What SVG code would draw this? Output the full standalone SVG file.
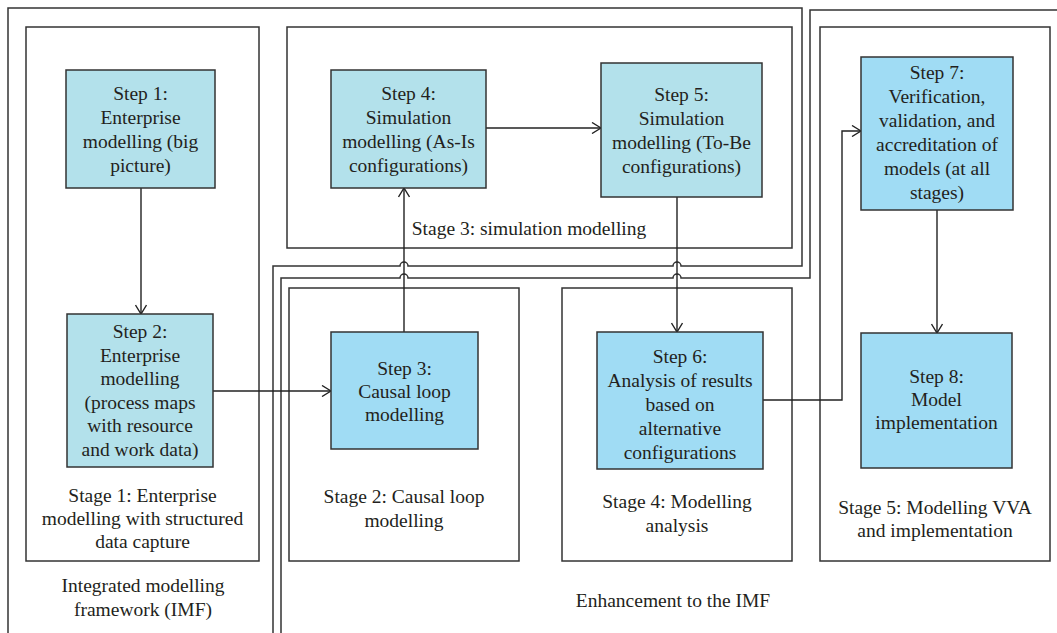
<svg xmlns="http://www.w3.org/2000/svg" width="1057" height="633" viewBox="0 0 1057 633">
<style>
text{font-family:"Liberation Serif","Times New Roman",serif;font-size:19.5px;fill:#231f20;text-anchor:middle}
.frame{fill:none;stroke:#333;stroke-width:1.5}
.a{fill:#b3e1eb;stroke:#333;stroke-width:1.5}
.b{fill:#a0dcf4;stroke:#333;stroke-width:1.5}
.c{fill:none;stroke:#222;stroke-width:1.4}
</style>
<defs>
<marker id="arr" viewBox="0 0 10 12" refX="10" refY="6" markerWidth="10" markerHeight="12" markerUnits="userSpaceOnUse" orient="auto">
<path d="M1,0.5 L10,6 L1,11.5" fill="none" stroke="#222" stroke-width="1.4"/>
</marker>
</defs>
<rect width="1057" height="633" fill="#fff"/>
<g id="frames">
<path class="frame" d="M8,633 V8 H802 V266 H681 A4,4 0 0 0 673,266 H408 A4,4 0 0 0 400,266 H273 V633"/>
<path class="frame" d="M1058,10 H810 V278 H681 A4,4 0 0 0 673,278 H408 A4,4 0 0 0 400,278 H281 V633"/>
<rect class="frame" x="26" y="27" width="233" height="534"/>
<rect class="frame" x="287" y="27" width="505" height="221"/>
<rect class="frame" x="289" y="288" width="230" height="273"/>
<rect class="frame" x="562" y="288" width="230" height="273"/>
<rect class="frame" x="820" y="27" width="230" height="534"/>
<text x="143" y="592">Integrated modelling</text>
<text x="143" y="616">framework (IMF)</text>
<text x="673" y="607">Enhancement to the IMF</text>
</g>
<g id="stage1">
<text x="142.5" y="502">Stage 1: Enterprise</text>
<text x="142.5" y="525">modelling with structured</text>
<text x="142.5" y="548">data capture</text>
</g>
<g id="stage2">
<text x="404" y="503">Stage 2: Causal loop</text>
<text x="404" y="527">modelling</text>
</g>
<g id="stage3">
<text x="529" y="235">Stage 3: simulation modelling</text>
</g>
<g id="stage4">
<text x="677" y="508">Stage 4: Modelling</text>
<text x="677" y="532">analysis</text>
</g>
<g id="stage5">
<text x="935" y="514">Stage 5: Modelling VVA</text>
<text x="935" y="537">and implementation</text>
</g>
<g id="connectors">
<path class="c" d="M141,188 V314" marker-end="url(#arr)"/>
<path class="c" d="M213,391 H331" marker-end="url(#arr)"/>
<path class="c" d="M404,332 V188" marker-end="url(#arr)"/>
<path class="c" d="M486,128 H601" marker-end="url(#arr)"/>
<path class="c" d="M677,197 V332" marker-end="url(#arr)"/>
<path class="c" d="M763,400 H842 V131 H861" marker-end="url(#arr)"/>
<path class="c" d="M937,210 V333" marker-end="url(#arr)"/>
</g>
<g id="step1">
<rect class="a" x="66" y="70" width="149" height="118"/>
<text x="140.5" y="100">Step 1:</text>
<text x="140.5" y="124">Enterprise</text>
<text x="140.5" y="148">modelling (big</text>
<text x="140.5" y="172">picture)</text>
</g>
<g id="step2">
<rect class="a" x="67" y="314" width="146" height="153"/>
<text x="140" y="338">Step 2:</text>
<text x="140" y="361.5">Enterprise</text>
<text x="140" y="385">modelling</text>
<text x="140" y="408.5">(process maps</text>
<text x="140" y="432">with resource</text>
<text x="140" y="455.5">and work data)</text>
</g>
<g id="step3">
<rect class="b" x="331" y="332" width="147" height="117"/>
<text x="404.5" y="375">Step 3:</text>
<text x="404.5" y="398">Causal loop</text>
<text x="404.5" y="421">modelling</text>
</g>
<g id="step4">
<rect class="a" x="331" y="70" width="155" height="118"/>
<text x="408.5" y="100">Step 4:</text>
<text x="408.5" y="124">Simulation</text>
<text x="408.5" y="148">modelling (As-Is</text>
<text x="408.5" y="172">configurations)</text>
</g>
<g id="step5">
<rect class="a" x="601" y="63" width="161" height="134"/>
<text x="681.5" y="101">Step 5:</text>
<text x="681.5" y="125">Simulation</text>
<text x="681.5" y="149">modelling (To-Be</text>
<text x="681.5" y="173">configurations)</text>
</g>
<g id="step6">
<rect class="b" x="597" y="332" width="166" height="137"/>
<text x="680" y="363">Step 6:</text>
<text x="680" y="387">Analysis of results</text>
<text x="680" y="411">based on</text>
<text x="680" y="435">alternative</text>
<text x="680" y="459">configurations</text>
</g>
<g id="step7">
<rect class="b" x="861" y="57" width="152" height="153"/>
<text x="937" y="79">Step 7:</text>
<text x="937" y="103">Verification,</text>
<text x="937" y="127">validation, and</text>
<text x="937" y="151">accreditation of</text>
<text x="937" y="175">models (at all</text>
<text x="937" y="199">stages)</text>
</g>
<g id="step8">
<rect class="b" x="861" y="333" width="151" height="135"/>
<text x="936.5" y="383">Step 8:</text>
<text x="936.5" y="406">Model</text>
<text x="936.5" y="429">implementation</text>
</g>
</svg>
